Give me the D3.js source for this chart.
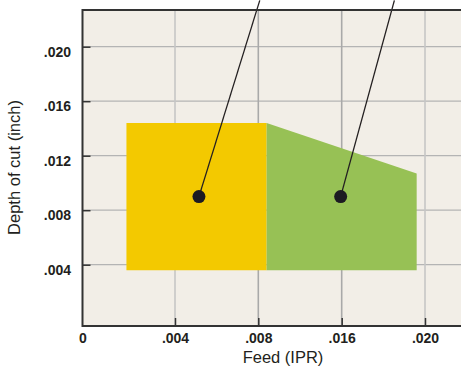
<!DOCTYPE html>
<html>
<head>
<meta charset="utf-8">
<script src="https://d3js.org/d3.v7.min.js"></script>
<style>
body { margin: 0; background: #fff; }
svg text { font-family: "Liberation Sans", Arial, sans-serif; fill: #231f20; }
.tick text { font-size: 14px; font-weight: bold; }
.tick line { stroke: #333; stroke-width: 1.5; }
</style>
</head>
<body>
<svg id="chart" width="461" height="370"></svg>
<script>
// data
var xTicks = [0, 0.004, 0.008, 0.016, 0.020]
var xTickLabels = ["0", ".004", ".008", ".016", ".020"]
var yTicks = [0.004, 0.008, 0.012, 0.016, 0.020]
var yTickLabels = [".004", ".008", ".012", ".016", ".020"]
// zone outlines, feed / depth corners
var zoneFeed = [[0.0019, 0.0019, 0.0088, 0.0088], [0.0088, 0.0088, 0.0196, 0.0196]]
var zoneDepth = [[0.0036, 0.0144, 0.0144, 0.0036], [0.0036, 0.0144, 0.0107, 0.0036]]
// callout dots and where their leader lines go
var dotFeed = [0.00515, 0.0159]
var dotDepth = [0.009, 0.009]
var leaderFeed = [0.00814, 0.01853]
var leaderDepth = [0.0234, 0.0234]

var zoneColors = ["#f3c900", "#97c155"]

// plot box (don't call it "top", that's window.top)
var plotL = 82.5, plotT = 10, plotB = 326, plotR = 461
var svg = d3.select("#chart")

// feed axis isn't evenly spaced in the original, so piecewise scale
var x = d3.scaleLinear().domain(xTicks).range([plotL, 175, 258.3, 341.7, 425])
var y = d3.scaleLinear().domain([0, 0.02]).range([319.2, 46.7])

svg.append("rect").attr("x", plotL).attr("y", plotT)
  .attr("width", plotR - plotL).attr("height", plotB - plotT).attr("fill", "#f2eee7")

svg.append("g").selectAll("line").data(yTicks).enter().append("line")
  .attr("x1", plotL).attr("x2", plotR)
  .attr("y1", function(d){ return y(d) }).attr("y2", function(d){ return y(d) })
  .attr("stroke", "#b4b4b4").attr("stroke-width", 1.3)
svg.append("g").selectAll("line").data(xTicks.slice(1)).enter().append("line")
  .attr("x1", function(d){ return x(d) }).attr("x2", function(d){ return x(d) })
  .attr("y1", plotT).attr("y2", plotB)
  .attr("stroke", function(d, i){ return (i == 1 || i == 2) ? "#a9a9a9" : "#c6c6c6" })
  .attr("stroke-width", 1.6)

// zones
var line = d3.line().x(function(d){ return x(d[0]) }).y(function(d){ return y(d[1]) })
svg.append("g").selectAll("path").data(zoneFeed).enter().append("path")
  .attr("d", function(d, i){ return line(d3.zip(zoneFeed[i], zoneDepth[i])) + "Z" })
  .attr("fill", function(d, i){ return zoneColors[i] })

// leaders + dots
svg.append("g").selectAll("line").data(dotFeed).enter().append("line")
  .attr("x1", function(d){ return x(d) }).attr("y1", function(d, i){ return y(dotDepth[i]) })
  .attr("x2", function(d, i){ return x(leaderFeed[i]) }).attr("y2", function(d, i){ return y(leaderDepth[i]) })
  .attr("stroke", "#231f20").attr("stroke-width", 1.3)
svg.append("g").selectAll("circle").data(dotFeed).enter().append("circle")
  .attr("cx", function(d){ return x(d) }).attr("cy", function(d, i){ return y(dotDepth[i]) })
  .attr("r", 6.5).attr("fill", "#1c1a22")

// frame
svg.append("path")
  .attr("d", "M" + plotR + "," + plotT + "H" + plotL + "V" + plotB + "H" + plotR)
  .attr("fill", "none").attr("stroke", "#333").attr("stroke-width", 2)

var xAxis = svg.append("g").attr("transform", "translate(0," + plotB + ")")
  .call(d3.axisBottom(x).tickValues(xTicks).tickFormat(function(d, i){ return xTickLabels[i] })
    .tickSizeInner(-8).tickSizeOuter(0).tickPadding(7))
xAxis.select(".domain").remove()
xAxis.selectAll(".tick").filter(function(d){ return d == 0 }).select("line").remove()

var yAxis = svg.append("g").attr("transform", "translate(" + plotL + ",0)")
  .call(d3.axisLeft(y).tickValues(yTicks).tickFormat(function(d, i){ return yTickLabels[i] })
    .tickSizeInner(-8).tickSizeOuter(0).tickPadding(11.5))
yAxis.select(".domain").remove()
yAxis.selectAll("text").attr("dy", "0.68em")
svg.selectAll(".tick text").attr("fill", "#231f20")

svg.append("text").attr("x", 283).attr("y", 363).attr("text-anchor", "middle")
  .style("font-size", "16.5px").text("Feed (IPR)")
svg.append("text").attr("transform", "translate(20,167.5) rotate(-90)").attr("text-anchor", "middle")
  .style("font-size", "16.5px").text("Depth of cut (inch)")
</script>
</body>
</html>
